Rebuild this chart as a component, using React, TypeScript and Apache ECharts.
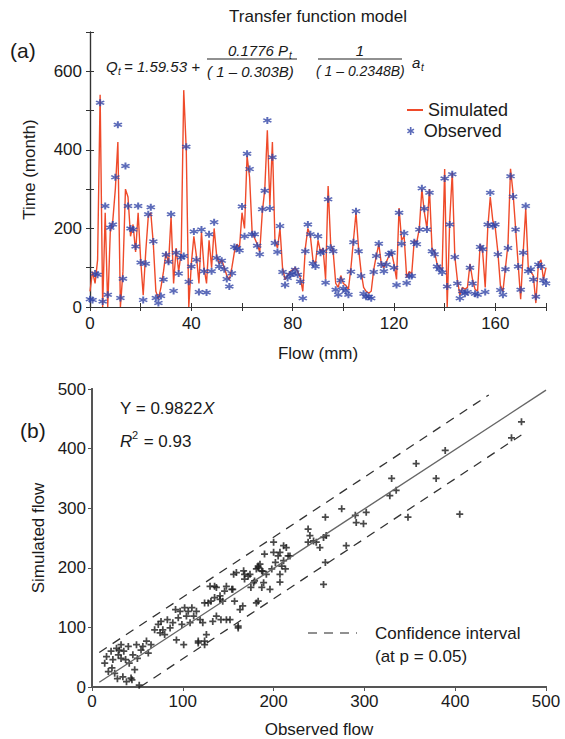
import React, { useEffect, useRef } from "react";
import * as echarts from "echarts";

// ---------- Panel (a): monthly series ----------
const observed: number[] = [
  20, 18, 85, 82, 520, 14, 257, 31, 202, 210,
  330, 464, 23, 72, 359, 257, 200, 197, 154, 257,
  113, 18, 110, 236, 254, 167, 23, 10, 28, 70,
  133, 115, 236, 41, 138, 85, 126, 130, 408, 64,
  103, 192, 120, 38, 197, 91, 37, 185, 91, 216,
  125, 103, 118, 96, 71, 52, 86, 153, 150, 144,
  256, 180, 390, 351, 185, 185, 156, 134, 249, 296,
  475, 251, 381, 163, 140, 206, 89, 56, 74, 82,
  86, 95, 82, 65, 22, 142, 210, 185, 111, 103,
  180, 138, 142, 62, 274, 151, 142, 44, 31, 68,
  47, 41, 31, 90, 165, 244, 142, 79, 34, 26,
  26, 22, 89, 130, 161, 108, 91, 108, 134, 138,
  100, 56, 240, 161, 188, 61, 79, 79, 165, 160,
  197, 302, 250, 197, 291, 142, 134, 103, 96, 88,
  327, 52, 210, 338, 127, 60, 22, 40, 34, 38,
  100, 60, 34, 31, 153, 147, 38, 210, 291, 206,
  210, 134, 43, 31, 96, 150, 333, 281, 197, 103,
  44, 138, 257, 91, 96, 70, 26, 108, 103, 68,
  60,
];
const simulated: number[] = [
  40, 90, 60, 120, 540, 0, 240, 0, 190, 220,
  300, 420, 0, 90, 300, 280, 180, 210, 140, 240,
  120, 30, 140, 230, 240, 160, 40, 20, 50, 90,
  140, 110, 230, 60, 150, 90, 140, 552, 400, 0,
  110, 180, 130, 60, 190, 100, 60, 170, 100, 200,
  130, 110, 120, 100, 80, 70, 100, 140, 160, 150,
  240, 200, 385, 330, 190, 175, 160, 140, 240, 300,
  450, 260, 420, 170, 150, 200, 100, 70, 80, 90,
  95, 100, 90, 75, 40, 150, 200, 180, 120, 110,
  170, 140, 150, 70, 308, 160, 140, 60, 50, 80,
  60, 55, 45, 100, 170, 240, 150, 90, 50, 40,
  35, 40, 95, 130, 160, 110, 100, 115, 130, 140,
  110, 70, 252, 170, 180, 75, 90, 85, 170, 165,
  200, 300, 240, 200, 300, 150, 140, 110, 100, 95,
  351, 0, 220, 342, 130, 70, 30, 50, 45, 50,
  110, 70, 45, 40, 160, 140, 50, 200, 280, 220,
  200, 140, 55, 40, 100, 160, 352, 290, 200, 110,
  20, 140, 250, 100, 90, 80, 10, 110, 120, 70,
  100,
];

// ---------- Panel (b): observed vs simulated flow ----------
const obsFlow: number[] = [
  14, 16, 18, 21, 23, 25, 27, 29, 30, 32, 32, 34, 35, 37, 38, 40, 41, 43, 45, 47,
  49, 50, 54, 56, 60, 62, 65, 69, 73, 75, 76, 78, 80, 83, 86, 89, 92, 93, 95, 97,
  99, 101, 102, 104, 106, 108, 110, 112, 115, 117, 119, 122, 124, 124, 128, 131, 133, 135, 137, 141,
  142, 144, 146, 148, 152, 155, 157, 161, 163, 166, 168, 172, 175, 179, 181, 185, 187, 188, 183, 22,
  44, 52, 28, 130, 137, 141, 154, 156, 159, 167, 168, 174, 178, 183, 187, 189, 192, 196, 198, 200,
  202, 205, 207, 209, 211, 213, 214, 216, 238, 240, 244, 247, 251, 255, 258, 257, 255, 257, 275, 280,
  290, 291, 299, 302, 328, 330, 335, 348, 357, 379, 389, 405, 473, 462, 211, 218, 238, 207, 207, 200,
  190, 183, 181, 161, 148, 135, 126, 124, 117,
];
const simFlow: number[] = [
  40, 51, 26, 60, 46, 23, 65, 54, 62, 48, 71, 17, 60, 46, 9, 68, 40, 15, 54, 29,
  71, 48, 62, 68, 77, 57, 71, 96, 105, 91, 110, 96, 88, 113, 99, 108, 130, 79, 116, 127,
  105, 71, 133, 119, 127, 108, 133, 119, 127, 77, 113, 108, 71, 141, 141, 144, 110, 150, 119, 147,
  113, 144, 161, 113, 113, 164, 144, 102, 130, 136, 189, 186, 167, 178, 198, 206, 167, 194, 144, 32,
  12, 3, 14, 169, 167, 153, 164, 189, 192, 195, 181, 189, 175, 203, 195, 175, 189, 164, 198, 226,
  209, 220, 189, 203, 212, 198, 234, 220, 243, 254, 245, 243, 234, 251, 254, 209, 172, 285, 299, 237,
  288, 276, 274, 293, 321, 350, 330, 285, 375, 350, 397, 290, 445, 418, 237, 220, 265, 176, 226, 243,
  223, 200, 141, 99, 169, 169, 88, 77, 74,
];
const fitLine: number[][] = [[8, 8], [500, 498]];
const upperCI: number[][] = [[8, 58], [437, 490]];
const lowerCI: number[][] = [[53, 0], [477, 427]];

const FONT = "Liberation Sans, Arial, Helvetica, sans-serif";
const TXT = "#1a1a1a";

const STAR =
  "path://M4,0H6V3.3L8.6,1.8L9.6,3.5L7,5L9.6,6.5L8.6,8.2L6,6.7V10H4V6.7L1.4,8.2L0.4,6.5L3,5L0.4,3.5L1.4,1.8L4,3.3Z";
const PLUS = "path://M3,0H5V3H8V5H5V8H3V5H0V3H3Z";

function txt(x: number, y: number, text: string, size: number, opts: any = {}) {
  return {
    type: "text",
    x,
    y,
    style: {
      text,
      fill: TXT,
      fontFamily: FONT,
      fontSize: size,
      fontStyle: opts.italic ? "italic" : "normal",
      align: opts.align || "left",
      verticalAlign: "middle",
    },
  };
}
function hline(x1: number, x2: number, y: number, dash?: number[]) {
  return {
    type: "line",
    shape: { x1, y1: y, x2, y2: y },
    style: { stroke: "#222", lineWidth: 1.2, lineDash: dash || null },
  };
}

export default function App() {
  const ref = useRef<HTMLDivElement>(null);
  useEffect(() => {
    if (!ref.current) return;
    const chart = echarts.init(ref.current, null, { renderer: "svg" });
    const months = observed.map((_, i) => i);
    const axisLine = { show: true, lineStyle: { color: "#333", width: 1.2 } };
    const axisLineB = { show: true, lineStyle: { color: "#555", width: 2 } };
    const lbl = { color: TXT, fontFamily: FONT, fontSize: 17 };
    const nameStyle = { color: TXT, fontFamily: FONT, fontSize: 17 };
    const legendText = { color: TXT, fontFamily: FONT, fontSize: 18 };

    chart.setOption({
      animation: false,
      backgroundColor: "#fff",
      textStyle: { fontFamily: FONT },
      grid: [
        { left: 90, top: 32, width: 456, height: 275, show: false },
        { left: 92, top: 389, width: 454, height: 298, show: false },
      ],
      xAxis: [
        {
          type: "value", gridIndex: 0, min: 0, max: 180, interval: 20,
          name: "Flow (mm)", nameLocation: "middle", nameGap: 38, nameTextStyle: nameStyle,
          axisLine, axisTick: { inside: true, length: 4, lineStyle: { color: "#333" } },
          axisLabel: { ...lbl, margin: 8, formatter: (v: number) => (v % 40 === 0 ? String(v) : "") },
          splitLine: { show: false },
        },
        {
          type: "value", gridIndex: 0, min: 0, max: 180, interval: 20, position: "top",
          axisLine, axisTick: { inside: true, length: 4, lineStyle: { color: "#333" } },
          axisLabel: { show: false }, splitLine: { show: false },
        },
        {
          type: "value", gridIndex: 1, min: 0, max: 500, interval: 100,
          name: "Observed flow", nameLocation: "middle", nameGap: 34, nameTextStyle: nameStyle,
          axisLine: axisLineB, axisTick: { inside: false, length: 4, lineStyle: { color: "#555" } },
          axisLabel: { ...lbl, margin: 6 }, splitLine: { show: false },
        },
        {
          type: "value", gridIndex: 1, min: 0, max: 500, interval: 100, position: "top",
          axisLine: axisLineB, axisTick: { show: false }, axisLabel: { show: false }, splitLine: { show: false },
        },
      ],
      yAxis: [
        {
          type: "value", gridIndex: 0, min: 0, max: 700, interval: 100,
          name: "Time (month)", nameLocation: "middle", nameGap: 52, nameTextStyle: nameStyle,
          axisLine, axisTick: { inside: true, length: 4, lineStyle: { color: "#333" } },
          axisLabel: { ...lbl, margin: 8, formatter: (v: number) => (v % 200 === 0 ? String(v) : "") },
          splitLine: { show: false },
        },
        {
          type: "value", gridIndex: 0, min: 0, max: 700, interval: 100, position: "right",
          axisLine, axisTick: { inside: true, length: 4, lineStyle: { color: "#333" } },
          axisLabel: { show: false }, splitLine: { show: false },
        },
        {
          type: "value", gridIndex: 1, min: 0, max: 500, interval: 100,
          name: "Simulated flow", nameLocation: "middle", nameGap: 44, nameTextStyle: nameStyle,
          axisLine: axisLineB, axisTick: { inside: false, length: 4, lineStyle: { color: "#555" } },
          axisLabel: { ...lbl, margin: 6 }, splitLine: { show: false },
        },
        {
          type: "value", gridIndex: 1, min: 0, max: 500, interval: 100, position: "right",
          axisLine: axisLineB, axisTick: { show: false }, axisLabel: { show: false }, splitLine: { show: false },
        },
      ],
      legend: [
        {
          left: 402, top: 96, itemWidth: 16, itemHeight: 2, icon: "rect",
          textStyle: legendText, data: ["Simulated"],
        },
        {
          left: 402, top: 117, itemWidth: 16, itemHeight: 8,
          textStyle: legendText, data: ["Observed"],
        },
      ],
      series: [
        {
          name: "Simulated", type: "line", xAxisIndex: 0, yAxisIndex: 0, symbol: "none",
          data: months.map((m) => [m, simulated[m]]),
          lineStyle: { color: "#ef4a2a", width: 1.4 }, itemStyle: { color: "#ef4a2a" },
        },
        {
          name: "Observed", type: "scatter", xAxisIndex: 0, yAxisIndex: 0,
          symbol: STAR, symbolSize: [10, 7], symbolKeepAspect: true,
          data: months.map((m) => [m, observed[m]]),
          itemStyle: { color: "#3346a8" }, z: 3,
        },
        {
          name: "Points", type: "scatter", xAxisIndex: 2, yAxisIndex: 2,
          symbol: PLUS, symbolSize: 7,
          data: obsFlow.map((x, i) => [x, simFlow[i]]),
          itemStyle: { color: "#1a1a1a" },
        },
        {
          name: "Fit", type: "line", xAxisIndex: 2, yAxisIndex: 2, symbol: "none",
          data: fitLine, lineStyle: { color: "#666", width: 1.4 },
        },
        {
          name: "Upper", type: "line", xAxisIndex: 2, yAxisIndex: 2, symbol: "none",
          data: upperCI, lineStyle: { color: "#333", width: 1.3, type: [9, 7] },
        },
        {
          name: "Lower", type: "line", xAxisIndex: 2, yAxisIndex: 2, symbol: "none",
          data: lowerCI, lineStyle: { color: "#333", width: 1.3, type: [9, 7] },
        },
      ],
      graphic: [
        txt(318, 16, "Transfer function model", 17, { align: "center" }),
        txt(10, 50, "(a)", 21),
        // equation
        txt(106, 66, "Q", 15, { italic: true }),
        txt(118, 71, "t", 10, { italic: true }),
        txt(124, 66, "= 1.59.53 +", 15, { italic: true }),
        txt(228, 50, "0.1776 P", 15, { italic: true }),
        txt(289, 55, "t", 10, { italic: true }),
        hline(207, 297, 59),
        txt(207, 71, "( 1 \u2013 0.303B)", 15, { italic: true }),
        txt(360, 50, "1", 15, { italic: true, align: "center" }),
        hline(318, 402, 59),
        txt(316, 71, "( 1 \u2013 0.2348B)", 14, { italic: true }),
        txt(412, 62, "a", 15, { italic: true }),
        txt(421, 67, "t", 10, { italic: true }),
        // panel b
        txt(20, 430, "(b)", 21),
        txt(120, 408, "Y = 0.9822", 17),
        txt(203, 408, "X", 17, { italic: true }),
        txt(120, 441, "R", 17, { italic: true }),
        txt(132, 435, "2", 11),
        txt(139, 441, " = 0.93", 17),
        hline(308, 357, 633, [9, 7]),
        txt(375, 633, "Confidence interval", 17),
        txt(375, 656, "(at p = 0.05)", 17),
      ],
    });
    return () => chart.dispose();
  }, []);
  return (
    <div
      ref={ref}
      style={{ position: "absolute", left: 0, top: 0, width: 565, height: 739 }}
    />
  );
}
